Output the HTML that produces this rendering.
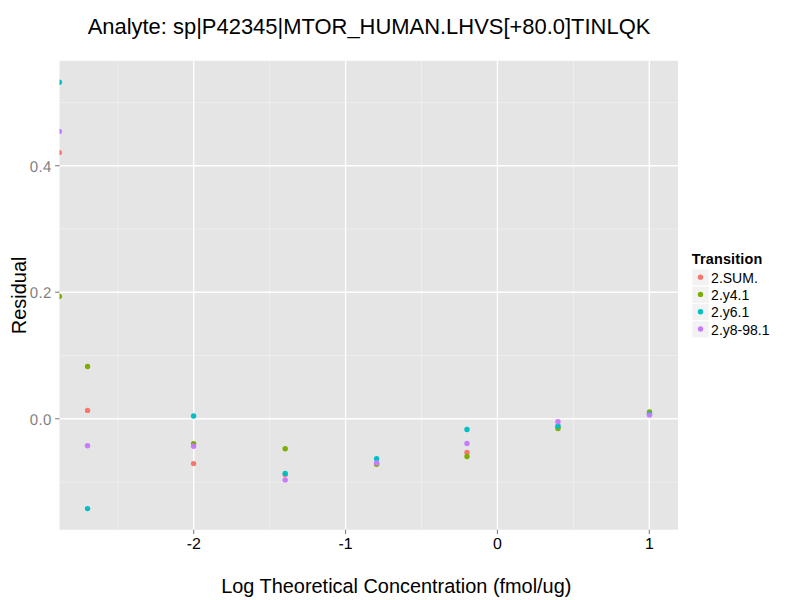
<!DOCTYPE html>
<html lang="en"><head><meta charset="utf-8"><title>Analyte residual plot</title>
<style>html,body{margin:0;padding:0;background:#fff}body{width:800px;height:600px;overflow:hidden}svg{display:block}text{font-family:"Liberation Sans",sans-serif}</style></head><body>
<svg width="800" height="600" viewBox="0 0 800 600">
<rect width="800" height="600" fill="#fff"/>
<rect x="59.5" y="60.8" width="618.50" height="468.95" fill="#E5E5E5"/>
<clipPath id="pc"><rect x="59.5" y="60.8" width="618.50" height="468.95"/></clipPath>
<g stroke="#F2F2F2" stroke-width="0.7">
<line x1="117.8" x2="117.8" y1="60.8" y2="529.75"/>
<line x1="269.6" x2="269.6" y1="60.8" y2="529.75"/>
<line x1="421.5" x2="421.5" y1="60.8" y2="529.75"/>
<line x1="573.4" x2="573.4" y1="60.8" y2="529.75"/>
<line x1="59.5" x2="678.0" y1="102.45" y2="102.45"/>
<line x1="59.5" x2="678.0" y1="228.95" y2="228.95"/>
<line x1="59.5" x2="678.0" y1="355.5" y2="355.5"/>
<line x1="59.5" x2="678.0" y1="482.0" y2="482.0"/>
</g><g stroke="#fff" stroke-width="1.35">
<line x1="193.7" x2="193.7" y1="60.8" y2="529.75"/>
<line x1="345.57" x2="345.57" y1="60.8" y2="529.75"/>
<line x1="497.43" x2="497.43" y1="60.8" y2="529.75"/>
<line x1="649.3" x2="649.3" y1="60.8" y2="529.75"/>
<line x1="59.5" x2="678.0" y1="165.7" y2="165.7"/>
<line x1="59.5" x2="678.0" y1="292.2" y2="292.2"/>
<line x1="59.5" x2="678.0" y1="418.75" y2="418.75"/>
</g><g clip-path="url(#pc)">
<circle cx="59.35" cy="152.6" r="2.7" fill="#F8766D"/>
<circle cx="87.55" cy="410.4" r="2.7" fill="#F8766D"/>
<circle cx="193.6" cy="463.6" r="2.7" fill="#F8766D"/>
<circle cx="285.2" cy="474.6" r="2.7" fill="#F8766D"/>
<circle cx="376.6" cy="463.8" r="2.7" fill="#F8766D"/>
<circle cx="467.0" cy="452.5" r="2.7" fill="#F8766D"/>
<circle cx="558.0" cy="426.8" r="2.7" fill="#F8766D"/>
<circle cx="649.5" cy="413.8" r="2.7" fill="#F8766D"/>
<circle cx="59.35" cy="296.5" r="2.7" fill="#7CAE00"/>
<circle cx="87.55" cy="366.5" r="2.7" fill="#7CAE00"/>
<circle cx="193.6" cy="443.7" r="2.7" fill="#7CAE00"/>
<circle cx="285.2" cy="448.8" r="2.7" fill="#7CAE00"/>
<circle cx="376.6" cy="464.3" r="2.7" fill="#7CAE00"/>
<circle cx="467.0" cy="456.5" r="2.7" fill="#7CAE00"/>
<circle cx="558.0" cy="428.5" r="2.7" fill="#7CAE00"/>
<circle cx="649.5" cy="412.0" r="2.7" fill="#7CAE00"/>
<circle cx="59.35" cy="82.3" r="2.7" fill="#00BFC4"/>
<circle cx="87.55" cy="508.6" r="2.7" fill="#00BFC4"/>
<circle cx="193.6" cy="416.0" r="2.7" fill="#00BFC4"/>
<circle cx="285.2" cy="473.5" r="2.7" fill="#00BFC4"/>
<circle cx="376.6" cy="458.8" r="2.7" fill="#00BFC4"/>
<circle cx="467.0" cy="429.5" r="2.7" fill="#00BFC4"/>
<circle cx="558.0" cy="426.0" r="2.7" fill="#00BFC4"/>
<circle cx="649.5" cy="414.2" r="2.7" fill="#00BFC4"/>
<circle cx="59.35" cy="131.4" r="2.7" fill="#C77CFF"/>
<circle cx="87.55" cy="445.8" r="2.7" fill="#C77CFF"/>
<circle cx="193.6" cy="446.3" r="2.7" fill="#C77CFF"/>
<circle cx="285.2" cy="479.9" r="2.7" fill="#C77CFF"/>
<circle cx="376.6" cy="463.0" r="2.7" fill="#C77CFF"/>
<circle cx="467.0" cy="443.5" r="2.7" fill="#C77CFF"/>
<circle cx="558.0" cy="421.8" r="2.7" fill="#C77CFF"/>
<circle cx="649.5" cy="415.1" r="2.7" fill="#C77CFF"/>
</g>
<g stroke="#7F7F7F" stroke-width="1.1">
<line x1="55.1" x2="59.5" y1="165.7" y2="165.7"/>
<line x1="55.1" x2="59.5" y1="292.2" y2="292.2"/>
<line x1="55.1" x2="59.5" y1="418.75" y2="418.75"/>
</g><g stroke="#7F7F7F" stroke-width="1.1">
<line x1="193.7" x2="193.7" y1="529.75" y2="534.1"/>
<line x1="345.57" x2="345.57" y1="529.75" y2="534.1"/>
<line x1="497.43" x2="497.43" y1="529.75" y2="534.1"/>
<line x1="649.3" x2="649.3" y1="529.75" y2="534.1"/>
</g>
<g font-size="15.5" fill="#7F7F7F" text-anchor="end" letter-spacing="0.42" text-rendering="geometricPrecision">
<text transform="translate(51.8 171.80) scale(0.968 1)">0.4</text>
<text transform="translate(51.8 298.30) scale(0.968 1)">0.2</text>
<text transform="translate(51.8 424.85) scale(0.968 1)">0.0</text>
</g>
<g font-size="15.9" fill="#000" text-anchor="middle" text-rendering="geometricPrecision">
<text x="193.7" y="549">-2</text>
<text x="345.57" y="549">-1</text>
<text x="497.43" y="549">0</text>
<text x="649.3" y="549">1</text>
</g>
<text id="ttl" x="369" y="33.5" font-size="21.95" text-anchor="middle" fill="#000">Analyte: sp|P42345|MTOR_HUMAN.LHVS[+80.0]TINLQK</text>
<text id="xt" x="396.3" y="593.2" font-size="19.9" text-anchor="middle" fill="#000">Log Theoretical Concentration (fmol/ug)</text>
<text id="yt" transform="translate(26.4 295.4) rotate(-90)" font-size="20" text-anchor="middle" fill="#000">Residual</text>
<text id="lt" x="691.7" y="263.6" font-size="14.4" font-weight="bold" letter-spacing="0.2" fill="#000">Transition</text>
<rect x="691.9" y="268.90" width="17.28" height="17.28" fill="#F2F2F2" stroke="#fff" stroke-width="1"/>
<circle cx="700.5" cy="277.14" r="2.7" fill="#F8766D"/>
<text class="ll" x="711.1" y="282.74" font-size="14" fill="#000">2.SUM.</text>
<rect x="691.9" y="286.18" width="17.28" height="17.28" fill="#F2F2F2" stroke="#fff" stroke-width="1"/>
<circle cx="700.5" cy="294.42" r="2.7" fill="#7CAE00"/>
<text class="ll" x="711.1" y="300.02" font-size="14" fill="#000">2.y4.1</text>
<rect x="691.9" y="303.46" width="17.28" height="17.28" fill="#F2F2F2" stroke="#fff" stroke-width="1"/>
<circle cx="700.5" cy="311.70" r="2.7" fill="#00BFC4"/>
<text class="ll" x="711.1" y="317.30" font-size="14" fill="#000">2.y6.1</text>
<rect x="691.9" y="320.74" width="17.28" height="17.28" fill="#F2F2F2" stroke="#fff" stroke-width="1"/>
<circle cx="700.5" cy="328.98" r="2.7" fill="#C77CFF"/>
<text class="ll" x="711.1" y="334.58" font-size="14" fill="#000">2.y8-98.1</text>
</svg></body></html>
